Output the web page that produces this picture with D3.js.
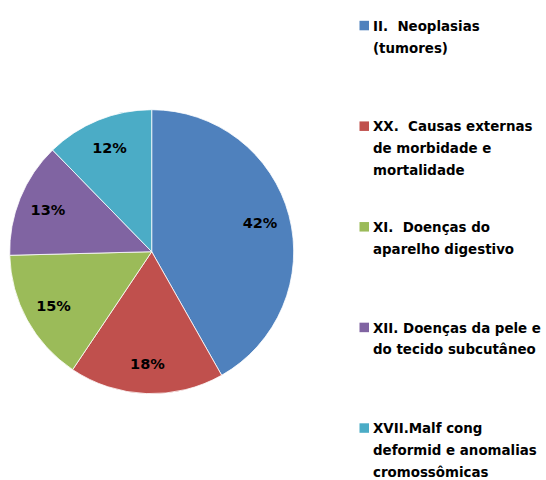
<!DOCTYPE html>
<html>
<head>
<meta charset="utf-8">
<script src="https://cdn.jsdelivr.net/npm/d3@7"></script>
<style>
  html, body { margin: 0; padding: 0; background: #ffffff; }
  svg { display: block; }
  text { font-family: "DejaVu Sans", sans-serif; font-weight: bold; fill: #000; white-space: pre; }
</style>
</head>
<body>
<script>
const categories = [
  "II.  Neoplasias (tumores)",
  "XX.  Causas externas de morbidade e mortalidade",
  "XI.  Doenças do aparelho digestivo",
  "XII. Doenças da pele e do tecido subcutâneo",
  "XVII.Malf cong deformid e anomalias cromossômicas"
];
const legendLines = [
  ["II.  Neoplasias", "(tumores)"],
  ["XX.  Causas externas", "de morbidade e", "mortalidade"],
  ["XI.  Doenças do", "aparelho digestivo"],
  ["XII. Doenças da pele e", "do tecido subcutâneo"],
  ["XVII.Malf cong", "deformid e anomalias", "cromossômicas"]
];
const values = [41.8, 17.6, 15.2, 13.1, 12.3];
const colors = ["#4F81BD", "#C0504D", "#9BBB59", "#8064A2", "#4BACC6"];

const W = 546, H = 480;
const svg = d3.select("body").append("svg").attr("width", W).attr("height", H);

const cx = 151.7, cy = 251.7, R = 142;
const total = d3.sum(values);
const data = values.map((v, i) => ({ name: categories[i], value: v, i }));

const pie = d3.pie().value(d => d.value).sort(null);
const arcs = pie(data);
const color = d3.scaleOrdinal().domain(categories).range(colors);
const arc = d3.arc().innerRadius(0).outerRadius(R);
const labelArc = d3.arc().innerRadius(2 * 112 - R).outerRadius(R);

const g = svg.append("g").attr("transform", `translate(${cx},${cy})`);
g.selectAll("path.slice").data(arcs).enter().append("path")
  .attr("class", "slice")
  .attr("d", arc)
  .attr("fill", d => color(d.data.name))
  .attr("stroke", "#ffffff")
  .attr("stroke-width", 0.8);

g.selectAll("text.lbl").data(arcs).enter().append("text")
  .attr("class", "lbl")
  .attr("transform", d => `translate(${labelArc.centroid(d)})`)
  .attr("text-anchor", "middle")
  .attr("dy", "0.36em")
  .style("font-size", "14.5px")
  .text(d => Math.round(d.data.value / total * 100) + "%");

// legend
const lg = svg.append("g");
const ly = d3.scaleLinear().domain([0, categories.length - 1]).range([30.8, 433.3]);
const item = lg.selectAll("g.item").data(categories).enter().append("g")
  .attr("class", "item")
  .attr("transform", (d, i) => `translate(0,${ly(i)})`);
item.append("rect")
  .attr("x", 359.5).attr("y", -10).attr("width", 9.5).attr("height", 9.5)
  .attr("fill", d => color(d));
item.each(function(d, i) {
  const t = d3.select(this).append("text").style("font-size", "13.4px");
  legendLines[i].forEach((ln, k) => {
    t.append("tspan").attr("x", 373).attr("y", k * 21.8).text(ln);
  });
});
</script>
</body>
</html>
